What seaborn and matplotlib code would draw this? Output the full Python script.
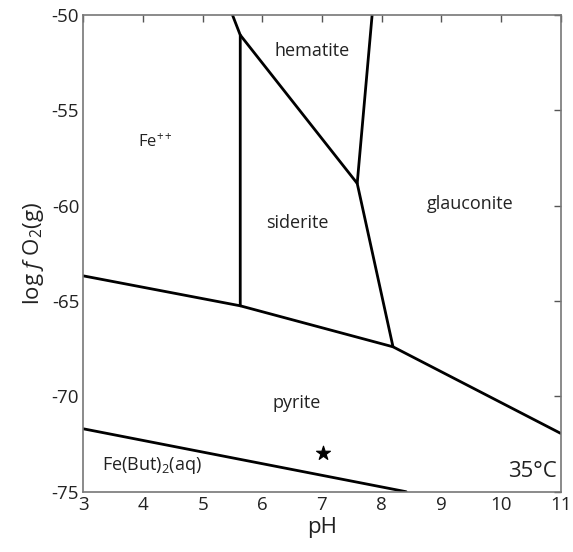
import matplotlib
matplotlib.use("Agg")
import matplotlib.pyplot as plt
import seaborn as sns
import pandas as pd

# Boundary segments (pH, log fO2)
seg_a_ph = [5.5, 5.63, 5.63]
seg_a_o2 = [-50.0, -51.05, -65.25]
seg_b_ph = [5.63, 7.59]
seg_b_o2 = [-51.05, -58.83]
seg_c_ph = [7.84, 7.59, 8.19]
seg_c_o2 = [-50.0, -58.83, -67.4]
seg_d_ph = [3.0, 5.63, 8.19, 11.0]
seg_d_o2 = [-63.68, -65.25, -67.4, -71.94]
seg_e_ph = [3.0, 8.41]
seg_e_o2 = [-71.7, -75.0]

star_ph = [7.02]
star_o2 = [-72.98]

field_labels = ["hematite", "Fe$^{++}$", "siderite", "glauconite", "pyrite", "Fe(But)$_2$(aq)"]
field_ph = [6.84, 4.2, 6.58, 9.48, 6.57, 4.15]
field_o2 = [-51.9, -56.7, -60.9, -59.9, -70.35, -73.6]
field_size = [13, 12, 13, 13, 13, 13]

xticks = [3, 4, 5, 6, 7, 8, 9, 10, 11]
yticks = [-75, -70, -65, -60, -55, -50]

sns.set_theme(style="white")
plt.rcParams['font.family'] = ['Open Sans', 'DejaVu Sans']
plt.rcParams['mathtext.fontset'] = 'custom'
plt.rcParams['mathtext.rm'] = 'Open Sans'
plt.rcParams['mathtext.it'] = 'Open Sans:italic'
plt.rcParams['axes.unicode_minus'] = False

fig = plt.figure(figsize=(5.73, 5.52), dpi=100)
ax = fig.add_axes([0.1454, 0.1092, 0.9785 - 0.1454, 0.9728 - 0.1092])

segs = [(seg_a_ph, seg_a_o2), (seg_b_ph, seg_b_o2), (seg_c_ph, seg_c_o2),
        (seg_d_ph, seg_d_o2), (seg_e_ph, seg_e_o2)]
frames = []
for i, (px, py) in enumerate(segs):
    frames.append(pd.DataFrame({"pH": px, "logfO2": py, "seg": i}))
df = pd.concat(frames, ignore_index=True)
sns.lineplot(data=df, x="pH", y="logfO2", units="seg", estimator=None, sort=False,
             color="black", linewidth=2.0, ax=ax, legend=False)

sns.scatterplot(x=star_ph, y=star_o2, marker="*", s=110, color="black",
                edgecolor="black", ax=ax, legend=False)

for lab, x, y, fs in zip(field_labels, field_ph, field_o2, field_size):
    ax.text(x, y, lab, ha="center", va="center", fontsize=fs, color="#222222")

ax.text(10.94, -73.95, "35°C", ha="right", va="center", fontsize=16, color="#222222")

ax.set_xlim(3, 11)
ax.set_ylim(-75, -50)
ax.set_xticks(xticks)
ax.set_yticks(yticks)
ax.tick_params(direction="in", length=5, width=1, color="#555555",
               top=True, right=True, labelsize=13.5, labelcolor="#222222", pad=3)
for s in ax.spines.values():
    s.set_color("#777777")
    s.set_linewidth(1.2)
ax.set_xlabel("pH", fontsize=16, color="#222222", labelpad=2)
ax.set_ylabel("log $f$ O$_2$(g)", fontsize=16, color="#222222", labelpad=4)

fig.savefig("out.png", dpi=100)
